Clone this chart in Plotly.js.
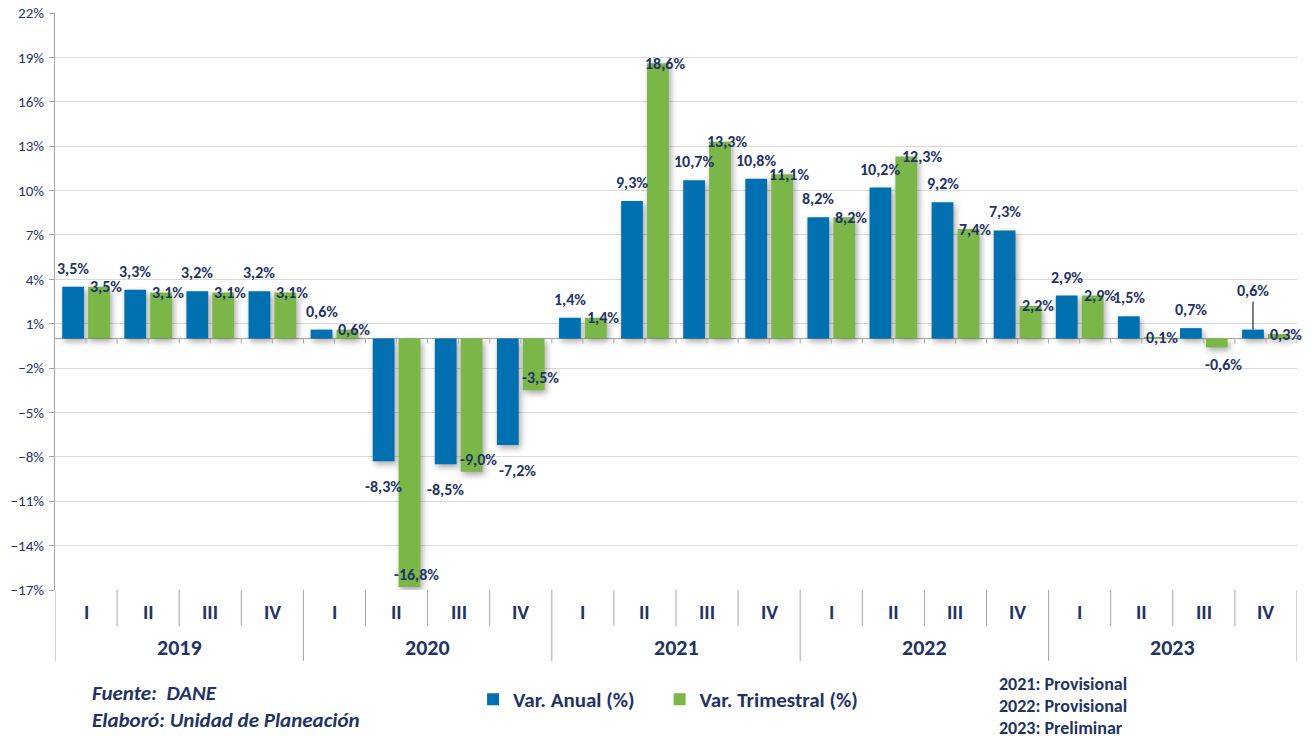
<!DOCTYPE html>
<html>
<head>
<meta charset="utf-8">
<script src="https://cdn.plot.ly/plotly-3.0.1.min.js"></script>
<style>
  html, body { margin: 0; padding: 0; background: #fff; }
  #chart { width: 1314px; height: 738px; }
  .barlayer .point path { filter: drop-shadow(2px 3px 3px rgba(0,0,0,0.35)); }
</style>
</head>
<body>
<div id="chart"></div>
<script>
// ---- data ----
const years = ['2019', '2020', '2021', '2022', '2023'];
const quarters = ['I', 'II', 'III', 'IV'];
const anual = [3.5, 3.3, 3.2, 3.2, 0.6, -8.3, -8.5, -7.2, 1.4, 9.3, 10.7, 10.8, 8.2, 10.2, 9.2, 7.3, 2.9, 1.5, 0.7, 0.6];
const trimestral = [3.5, 3.1, 3.1, 3.1, 0.6, -16.8, -9.0, -3.5, 1.4, 18.6, 13.3, 11.1, 8.2, 12.3, 7.4, 2.2, 2.9, 0.1, -0.6, 0.3];
const seriesNames = ['Var. Anual (%)', 'Var. Trimestral (%)'];
const sourceLines = ['Fuente:  DANE', 'Elaboró: Unidad de Planeación'];
const notes = ['2021: Provisional', '2022: Provisional', '2023: Preliminar'];

// ---- style ----
const FONT = 'Carlito, Calibri, "Liberation Sans", Arial, sans-serif';
const NAVY = '#1F3366';
const BLUE = '#0070B0';
const GREEN = '#7AB648';
const AXIS = '#A6A6A6';
const GRID = '#D9D9D9';
const bargap = 0.166;
const bargroupgap = 0.16;
const halfOff = (1 - bargap) / 4;

const cats = [];
years.forEach(y => quarters.forEach(q => cats.push(q + ' ' + y)));
const fmt = v => v.toFixed(1).replace('.', ',') + '%';

const traces = [
  { type: 'bar', name: seriesNames[0], x: cats, y: anual, marker: { color: BLUE }, hoverinfo: 'skip', legend: 'legend' },
  { type: 'bar', name: seriesNames[1], x: cats, y: trimestral, marker: { color: GREEN }, hoverinfo: 'skip', legend: 'legend2' }
];

const annotations = [];
const labFont = { family: FONT, size: 16, color: NAVY, weight: 'bold' };
const leaderIdx = [anual.length - 1];
anual.forEach((v, i) => {
  const a = { xref: 'x', yref: 'y', x: i - halfOff, y: v, text: fmt(v), showarrow: false, font: labFont, xshift: 0 };
  if (leaderIdx.includes(i)) {
    Object.assign(a, { showarrow: true, arrowhead: 0, arrowwidth: 1, arrowcolor: '#000', ax: 0, ay: -39, standoff: 0 });
  } else if (v >= 0) {
    Object.assign(a, { yanchor: 'bottom', yshift: 7 });
  } else {
    Object.assign(a, { yanchor: 'top', yshift: -14 });
  }
  annotations.push(a);
});
trimestral.forEach((v, i) => {
  const a = { xref: 'x', yref: 'y', x: i + halfOff, y: v, text: fmt(v), showarrow: false, font: labFont, xshift: 7 };
  if (v >= 0) Object.assign(a, { yanchor: 'middle' });
  else if (v < -2) Object.assign(a, { yanchor: 'bottom', yshift: 1 });
  else Object.assign(a, { yanchor: 'top', yshift: -6 });
  annotations.push(a);
});
const nData = annotations.length;

// category labels below the plot
cats.forEach((c, i) => {
  annotations.push({ xref: 'x', yref: 'paper', x: i, y: -0.038, yanchor: 'middle', text: quarters[i % 4],
    showarrow: false, font: { family: FONT, size: 20, color: NAVY, weight: 'bold' } });
});
years.forEach((y, j) => {
  annotations.push({ xref: 'x', yref: 'paper', x: j * 4 + 1.5, y: -0.099, yanchor: 'middle', text: y,
    showarrow: false, font: { family: FONT, size: 22, color: NAVY, weight: 'bold' } });
});
sourceLines.forEach((t, k) => {
  annotations.push({ xref: 'paper', yref: 'paper', x: 0.028, y: -0.179 - k * 0.047, xanchor: 'left', yanchor: 'middle',
    text: t, showarrow: false, font: { family: FONT, size: 21, color: NAVY, weight: 'bold', style: 'italic' } });
});
notes.forEach((t, k) => {
  annotations.push({ xref: 'paper', yref: 'paper', x: 0.7587, y: -0.163 - k * 0.038, xanchor: 'left', yanchor: 'middle',
    text: t, showarrow: false, font: { family: FONT, size: 18, color: NAVY, weight: 'bold' } });
});

const shapes = [];
// dividers below the plot
for (let b = 0; b <= cats.length; b++) {
  const isYear = b % 4 === 0;
  shapes.push({ type: 'line', xref: 'x', yref: 'paper', ysizemode: 'pixel', yanchor: 0,
    x0: b - 0.5, x1: b - 0.5, y0: 0, y1: isYear ? -71 : -36, line: { color: AXIS, width: 1 } });
}
// small ticks on the zero line
for (let k = 1; k <= cats.length * 2; k++) {
  const xx = k * 0.5 - 0.5;
  shapes.push({ type: 'line', xref: 'x', yref: 'y', ysizemode: 'pixel', yanchor: 0,
    x0: xx, x1: xx, y0: 0, y1: -5, line: { color: AXIS, width: 1 } });
}

const legFont = { family: FONT, size: 21, color: NAVY, weight: 'bold' };
const layout = {
  width: 1314, height: 738,
  margin: { l: 55, r: 17, t: 13, b: 148 },
  paper_bgcolor: '#fff', plot_bgcolor: '#fff',
  barmode: 'group', bargap: bargap, bargroupgap: bargroupgap,
  font: { family: FONT, color: NAVY },
  xaxis: { type: 'category', range: [-0.5, cats.length - 0.5], showticklabels: false, ticks: '',
    showgrid: false, zeroline: false, showline: false, fixedrange: true },
  yaxis: { range: [-17, 22], tick0: 1, dtick: 3, ticksuffix: '%', showgrid: true, gridcolor: GRID, gridwidth: 1,
    zeroline: true, zerolinecolor: AXIS, zerolinewidth: 1, showline: true, linecolor: AXIS, linewidth: 1,
    ticks: 'outside', ticklen: 5, tickcolor: AXIS, ticklabelstandoff: 2,
    tickfont: { family: FONT, size: 15, color: NAVY }, fixedrange: true },
  legend: { orientation: 'h', x: 0.3366, xanchor: 'left', y: -0.19, yanchor: 'middle', font: legFont, bgcolor: 'rgba(0,0,0,0)' },
  legend2: { orientation: 'h', x: 0.4868, xanchor: 'left', y: -0.19, yanchor: 'middle', font: legFont, bgcolor: 'rgba(0,0,0,0)' },
  showlegend: true,
  annotations: annotations,
  shapes: shapes
};

Plotly.newPlot('chart', traces, layout, { displayModeBar: false, staticPlot: true }).then(gd => {
  // nudge data labels to the right when they collide with a label already placed
  const boxes = {};
  gd.querySelectorAll('g.annotation').forEach(el => {
    const idx = +el.getAttribute('data-index');
    const t = el.querySelector('text');
    if (idx < nData && t) boxes[idx] = t.getBoundingClientRect();
  });
  const order = [];
  anual.forEach((v, i) => { order.push(i); order.push(anual.length + i); });
  const placed = [];
  const upd = {};
  order.forEach(idx => {
    const b = boxes[idx];
    if (!b) return;
    let shift = 0;
    for (let it = 0; it < 5; it++) {
      const hit = placed.find(p => Math.min(b.right + shift, p.right) - Math.max(b.left + shift, p.left) > 4 &&
                                   Math.min(b.bottom, p.bottom) - Math.max(b.top, p.top) > 5);
      if (!hit) break;
      shift += hit.right - (b.left + shift) + 1;
    }
    if (shift > 0 && shift < 40) upd['annotations[' + idx + '].xshift'] = (annotations[idx].xshift || 0) + shift;
    else shift = 0;
    placed.push({ left: b.left + shift, right: b.right + shift, top: b.top, bottom: b.bottom });
  });
  if (Object.keys(upd).length) Plotly.relayout(gd, upd);
});
</script>
</body>
</html>
